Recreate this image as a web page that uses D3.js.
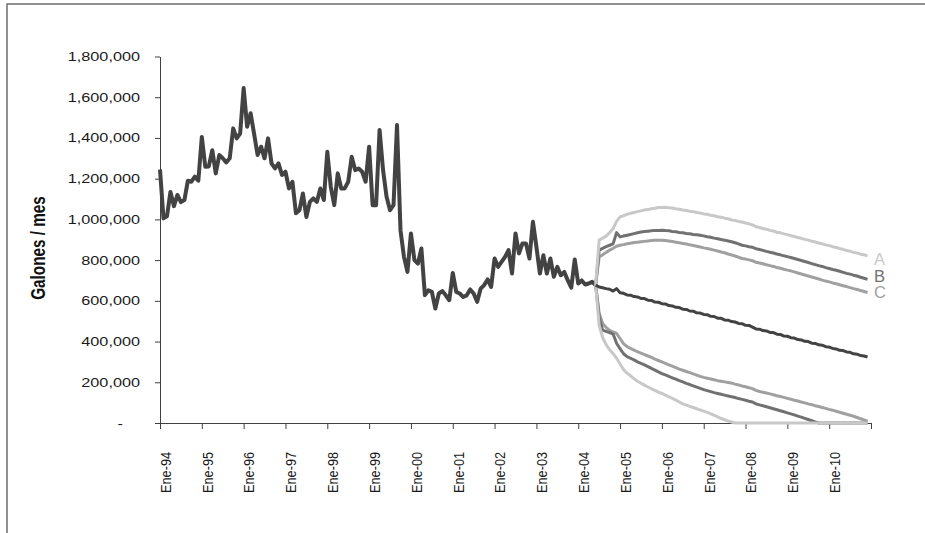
<!DOCTYPE html>
<html><head><meta charset="utf-8">
<script src="https://cdn.jsdelivr.net/npm/d3@7"></script>
<style>body{margin:0;background:#fff}svg{display:block}</style>
</head><body><svg id="c" width="925" height="533"></svg>
<script>
// ---------- data ----------
const tickLabels = ["Ene-94","Ene-95","Ene-96","Ene-97","Ene-98","Ene-99","Ene-00","Ene-01","Ene-02","Ene-03","Ene-04","Ene-05","Ene-06","Ene-07","Ene-08","Ene-09","Ene-10"];
const yTickValues = [0,200000,400000,600000,800000,1000000,1200000,1400000,1600000,1800000];
const totalMonths = 204; // Ene-94 .. Dic-10

// monthly history, Ene-94 .. Jun-04
const historico = [
1245e3,1005e3,1015e3,1135e3,1065e3,1120e3,1085e3,1095e3,1190e3,1185e3,1210e3,1190e3,
1405e3,1258e3,1260e3,1340e3,1226e3,1316e3,1300e3,1280e3,1300e3,1447e3,1398e3,1422e3,
1645e3,1455e3,1521e3,1420e3,1316e3,1357e3,1300e3,1398e3,1275e3,1250e3,1275e3,1218e3,
1234e3,1152e3,1185e3,1030e3,1045e3,1127e3,1012e3,1086e3,1103e3,1086e3,1152e3,1095e3,
1332e3,1160e3,1070e3,1226e3,1152e3,1152e3,1185e3,1308e3,1242e3,1250e3,1234e3,1185e3,
1357e3,1070e3,1070e3,1439e3,1242e3,1111e3,1045e3,1070e3,1463e3,947e3,816e3,742e3,
931e3,800e3,783e3,857e3,628e3,652e3,644e3,562e3,636e3,648e3,627e3,603e3,
737e3,644e3,636e3,619e3,627e3,656e3,636e3,595e3,660e3,677e3,705e3,668e3,
808e3,767e3,791e3,816e3,849e3,734e3,931e3,833e3,882e3,882e3,808e3,988e3,
865e3,734e3,824e3,734e3,808e3,718e3,767e3,726e3,742e3,700e3,665e3,803e3,
685e3,700e3,680e3,685e3,693e3,677e3];

const inicioEscenarios = 125; // Jun-04

const pronostico = [
677e3,668e3,664e3,660e3,657e3,648e3,660e3,640e3,637e3,629e3,
628e3,621e3,619e3,612e3,611e3,603e3,602e3,594e3,593e3,586e3,
585e3,577e3,575e3,568e3,567e3,559e3,558e3,550e3,549e3,541e3,
540e3,533e3,532e3,524e3,523e3,515e3,514e3,506e3,505e3,498e3,
496e3,489e3,488e3,480e3,479e3,471e3,
462e3,461e3,454e3,452e3,445e3,444e3,436e3,435e3,427e3,
426e3,419e3,417e3,410e3,408e3,401e3,400e3,392e3,391e3,384e3,
382e3,375e3,373e3,366e3,364e3,357e3,356e3,349e3,347e3,340e3,
338e3,331e3,329e3,324e3];

const escenarioA_sup = [
677e3,898e3,908e3,918e3,935e3,955e3,990e3,1012e3,1018e3,1025e3,
1030e3,1034e3,1038e3,1042e3,1046e3,1049e3,1052e3,1055e3,1058e3,1058e3,
1060e3,1057e3,1056e3,1052e3,1050e3,1046e3,1044e3,1040e3,1038e3,1034e3,
1031e3,1027e3,1025e3,1020e3,1018e3,1013e3,1011e3,1006e3,1003e3,997e3,
995e3,990e3,987e3,982e3,978e3,973e3,
964e3,960e3,955e3,952e3,946e3,943e3,937e3,934e3,929e3,
925e3,920e3,916e3,911e3,907e3,902e3,898e3,893e3,889e3,884e3,
880e3,875e3,871e3,866e3,862e3,857e3,853e3,847e3,844e3,838e3,
835e3,829e3,826e3,821e3];

const escenarioB_sup = [
677e3,849e3,858e3,866e3,873e3,880e3,935e3,914e3,918e3,922e3,
926e3,930e3,934e3,938e3,940e3,942e3,944e3,946e3,946e3,947e3,
945e3,944e3,941e3,939e3,936e3,934e3,931e3,929e3,926e3,925e3,
922e3,919e3,915e3,912e3,908e3,905e3,901e3,898e3,894e3,890e3,
885e3,880e3,873e3,870e3,866e3,863e3,
856e3,852e3,848e3,843e3,839e3,835e3,830e3,826e3,821e3,
817e3,813e3,808e3,803e3,798e3,793e3,788e3,783e3,778e3,773e3,
769e3,763e3,759e3,754e3,750e3,745e3,740e3,735e3,731e3,726e3,
722e3,716e3,711e3,705e3];

const escenarioC_sup = [
677e3,815e3,826e3,838e3,849e3,858e3,868e3,873e3,876e3,880e3,
883e3,886e3,888e3,890e3,892e3,894e3,896e3,897e3,898e3,898e3,
896e3,894e3,891e3,888e3,885e3,882e3,879e3,875e3,872e3,868e3,
864e3,860e3,857e3,853e3,849e3,845e3,840e3,836e3,830e3,825e3,
820e3,814e3,808e3,805e3,801e3,797e3,
789e3,786e3,782e3,777e3,773e3,769e3,764e3,760e3,755e3,
751e3,747e3,742e3,737e3,732e3,727e3,722e3,717e3,712e3,707e3,
702e3,697e3,693e3,688e3,684e3,679e3,674e3,670e3,665e3,660e3,
656e3,651e3,646e3,641e3];

const escenarioC_inf = [
677e3,540e3,488e3,470e3,455e3,447e3,440e3,415e3,390e3,375e3,
366e3,358e3,350e3,343e3,336e3,329e3,322e3,314e3,307e3,300e3,
293e3,286e3,279e3,272e3,265e3,259e3,253e3,247e3,241e3,235e3,
229e3,224e3,220e3,216e3,212e3,208e3,205e3,202e3,199e3,196e3,
191e3,187e3,182e3,178e3,173e3,169e3,
160e3,155e3,151e3,147e3,143e3,139e3,134e3,130e3,126e3,
121e3,117e3,112e3,108e3,103e3,99e3,94e3,90e3,85e3,81e3,
76e3,72e3,67e3,63e3,58e3,53e3,48e3,43e3,38e3,33e3,
27e3,21e3,15e3,9e3];

const escenarioB_inf = [
677e3,520e3,456e3,450e3,444e3,437e3,392e3,365e3,340e3,326e3,
318e3,310e3,300e3,293e3,285e3,277e3,268e3,260e3,251e3,243e3,
236e3,229e3,222e3,215e3,208e3,202e3,195e3,189e3,182e3,176e3,
170e3,164e3,159e3,154e3,149e3,145e3,141e3,137e3,133e3,129e3,
125e3,120e3,116e3,112e3,107e3,103e3,
94e3,89e3,85e3,80e3,75e3,70e3,65e3,60e3,55e3,
50e3,45e3,40e3,34e3,29e3,23e3,17e3,11e3,5e3,0,
0,0,0,0,0,0,0,0,0,0,
0,0,0,0];

const escenarioA_inf = [
677e3,480e3,420e3,385e3,360e3,341e3,318e3,290e3,262e3,245e3,
232e3,218e3,205e3,195e3,186e3,177e3,168e3,160e3,152e3,145e3,
137e3,129e3,121e3,112e3,103e3,94e3,88e3,82e3,76e3,70e3,
64e3,58e3,52e3,45e3,38e3,30e3,22e3,16e3,10e3,5e3,
0,0,0,0,0,0,
0,0,0,0,0,0,0,0,0,
0,0,0,0,0,0,0,0,0,0,
0,0,0,0,0,0,0,0,0,0,
0,0,0,0];

const etiquetas = ["A","B","C"];

// ---------- drawing ----------
const svg = d3.select("#c");
const FONT = "'Liberation Sans', Arial, Helvetica, sans-serif";

svg.append("rect").attr("x",7).attr("y",4).attr("width",940).attr("height",560)
  .attr("fill","#fff").attr("stroke","#6e6e6e").attr("stroke-width",1.5);

const x = d3.scaleLinear().domain([0, totalMonths]).range([160, 871]);
const y = d3.scaleLinear().domain([0, 1800000]).range([423, 56.5]);

// Y axis
const yAxis = d3.axisLeft(y).tickValues(yTickValues).tickSize(5).tickSizeOuter(0)
  .tickFormat(d => d === 0 ? "-" : d3.format(",")(d));
const gy = svg.append("g").attr("transform","translate(160,0)").call(yAxis);
gy.select(".domain").attr("stroke","#404040");
gy.selectAll(".tick line").attr("stroke","#404040");
gy.selectAll(".tick text").attr("x", null).attr("fill","#1a1a1a")
  .style("font-family", FONT).style("font-size","12.5px")
  .attr("transform", d => `translate(${d === 0 ? -37 : -20},0) scale(1.3,1)`);

// X axis
const xAxis = d3.axisBottom(x).tickValues(d3.range(0, totalMonths + 1, 12))
  .tickSize(6).tickSizeOuter(0)
  .tickFormat(d => tickLabels[d / 12] || "");
const gx = svg.append("g").attr("transform","translate(0,423)").call(xAxis);
gx.select(".domain").attr("stroke","#404040");
gx.selectAll(".tick line").attr("stroke","#404040");
gx.selectAll(".tick text").attr("y", null).attr("dy","0.35em").attr("text-anchor","end")
  .attr("fill","#1a1a1a").style("font-family", FONT).style("font-size","12.7px")
  .attr("transform","translate(5,29) scale(1.2,1) rotate(-90)");

// Axis title
svg.append("text").attr("transform","translate(45,248) scale(1.3,1) rotate(-90)")
  .attr("text-anchor","middle").style("font-family", FONT).style("font-size","15.3px")
  .style("font-weight","bold").attr("fill","#111").text("Galones / mes");

// lines
function lineFrom(offset) {
  return d3.line().x((d, i) => x(i + offset)).y(d => y(d));
}
function draw(data, offset, color, width) {
  svg.append("path").datum(data).attr("d", lineFrom(offset))
    .attr("fill","none").attr("stroke", color).attr("stroke-width", width)
    .attr("stroke-linejoin","round").attr("stroke-linecap","butt");
}
const colA = "#c8c8c8", colB = "#717171", colC = "#a0a0a0", colMain = "#434343";

draw(historico, 0, colMain, 4);
draw(escenarioC_sup, inicioEscenarios, colC, 3);
draw(escenarioC_inf, inicioEscenarios, colC, 3);
draw(escenarioB_sup, inicioEscenarios, colB, 3);
draw(escenarioB_inf, inicioEscenarios, colB, 3);
draw(escenarioA_sup, inicioEscenarios, colA, 3);
draw(escenarioA_inf, inicioEscenarios, colA, 3);
draw(pronostico, inicioEscenarios, colMain, 3);

// scenario labels
const lastIdx = totalMonths - 1;
const ends = [escenarioA_sup, escenarioB_sup, escenarioC_sup].map(a => a[a.length - 1]);
const dyLab = [9.3, 2.2, 5.7];
const colsLab = [colA, colB, colC];
etiquetas.forEach((t, k) => {
  svg.append("text").attr("x", x(lastIdx) + 6.5).attr("y", y(ends[k]) + dyLab[k])
    .style("font-family", FONT).style("font-size","16.5px").attr("fill", colsLab[k]).text(t);
});
</script>
</body></html>
